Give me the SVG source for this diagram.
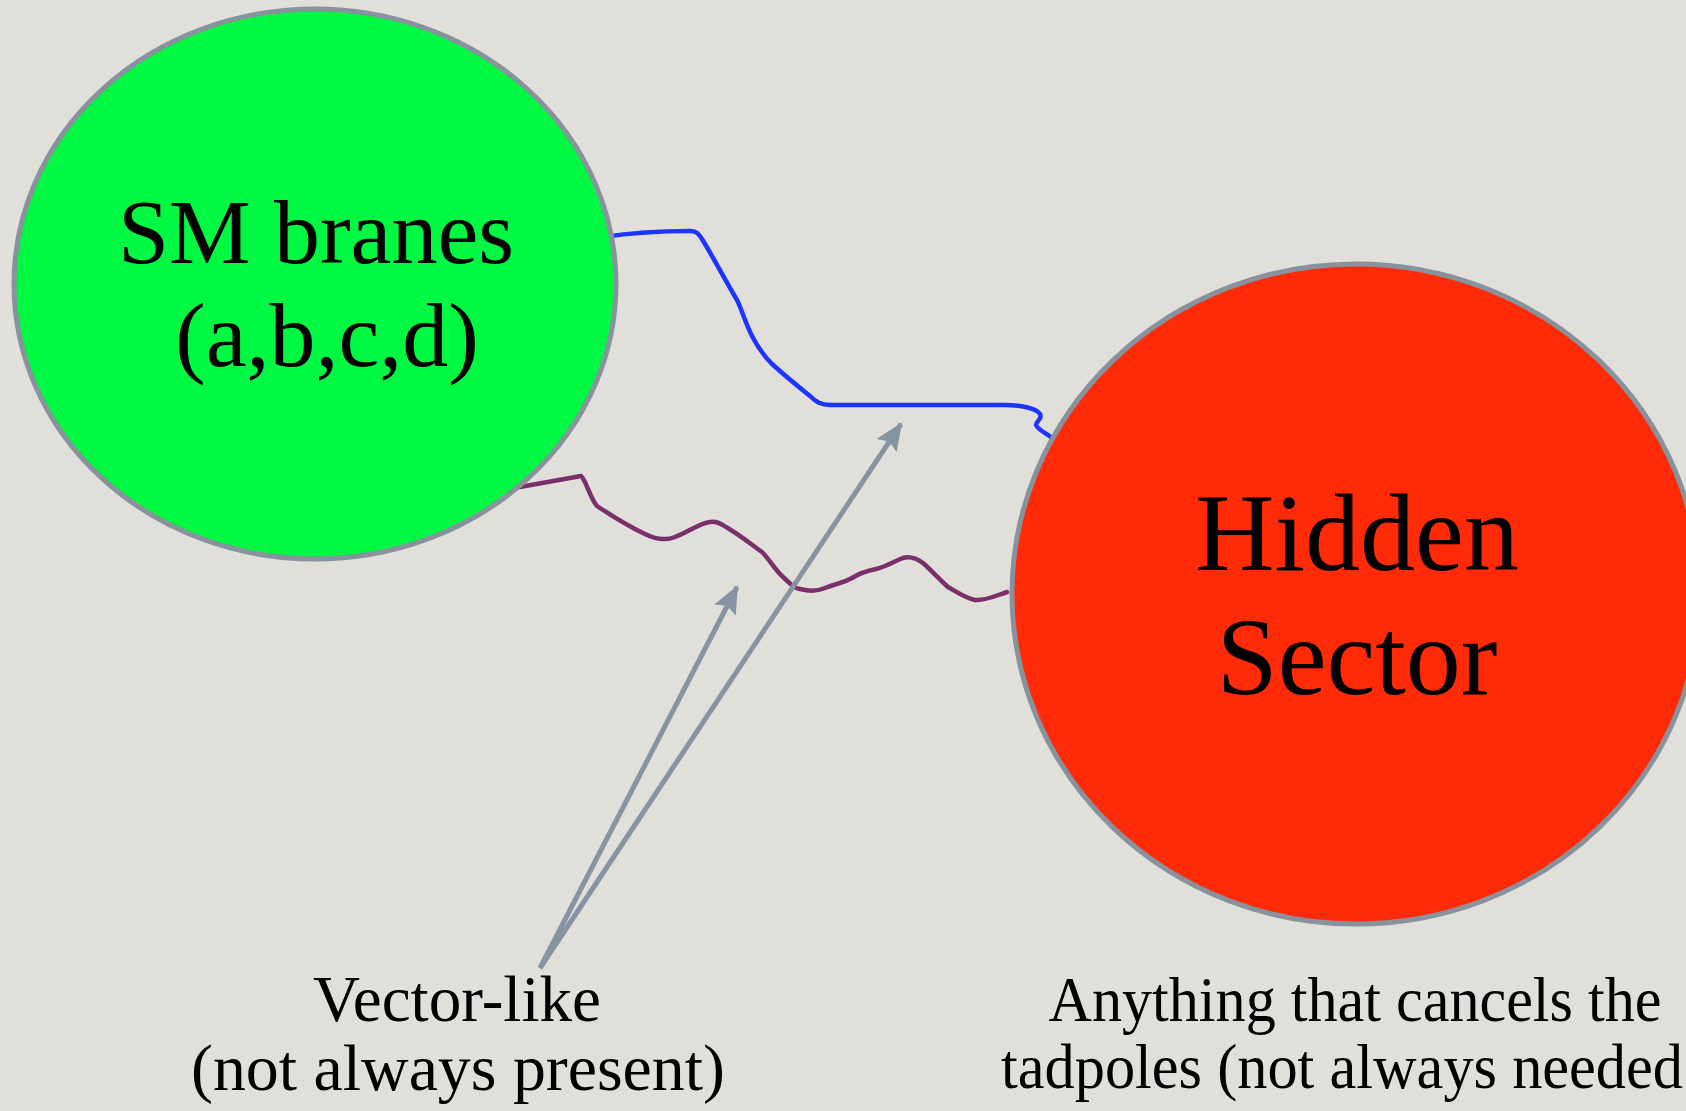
<svg xmlns="http://www.w3.org/2000/svg" width="1686" height="1111" viewBox="0 0 1686 1111">
  <style>
    .node { stroke: #88929d; stroke-width: 5; }
    .label { font-family: "Liberation Serif", "DejaVu Serif", serif; fill: #000; text-anchor: middle; }
    .wire { fill: none; stroke-width: 4.5; stroke-linecap: round; stroke-linejoin: round; }
    .arrow { fill: none; stroke: #8693a0; stroke-width: 5; marker-end: url(#ah); }
  </style>
  <defs>
    <marker id="ah" markerUnits="userSpaceOnUse" markerWidth="30" markerHeight="30" viewBox="0 0 30 30" refX="26" refY="15" orient="auto">
      <path d="M0,3 L28,15 L0,27 L5,15 Z" fill="#8693a0"/>
    </marker>
  </defs>
  <rect x="0" y="0" width="1686" height="1111" fill="#e1dfda"/>

  <g id="connectors">
    <path class="wire" stroke="#7a2e6c" d="M520,487 L581,476 C586,480 590,498 597,506 C612,516 630,527 645,534 C655,539 665,541 675,537 C690,531 700,523 710,522 C716,521 720,523 726,527 C740,535 752,545 762,552 C770,560 775,570 783,577 C790,583 793,588 800,589 C808,591 815,592 825,588 C835,584 843,583 852,578 C860,573 866,571 876,569 C885,567 893,562 903,558 C910,556 916,558 923,563 C932,571 940,580 948,587 C957,592 965,598 975,600 C985,601 995,596 1007,592"/>
    <path class="wire" stroke="#1d33ff" d="M603,237 C630,233 660,231 690,231 C696,231 698,233 702,239 C712,255 725,280 737,300 C742,310 745,322 752,336 C758,348 764,356 772,364 C782,373 795,384 810,396 C816,402 821,405 830,405 L1005,405 C1020,405 1036,408 1040,414 C1043,419 1036,421 1036,425 C1038,430 1046,433 1052,438"/>
    <path class="arrow" d="M540,968 L737,587"/>
    <path class="arrow" d="M540,968 L901,424"/>
  </g>

  <g id="sm-branes">
    <ellipse class="node" cx="315" cy="284" rx="301" ry="275" fill="#00f843"/>
    <text class="label" x="316" y="263" font-size="92">SM branes</text>
    <text class="label" x="327" y="366" font-size="92">(a,b,c,d)</text>
  </g>

  <g id="hidden-sector">
    <ellipse class="node" cx="1356" cy="594" rx="344" ry="330" fill="#ff2a08"/>
    <text class="label" x="1357" y="570" font-size="110">Hidden</text>
    <text class="label" x="1357" y="694" font-size="110">Sector</text>
  </g>

  <g id="vector-like-label">
    <text class="label" x="457" y="1021" font-size="65" textLength="288" lengthAdjust="spacingAndGlyphs">Vector-like</text>
    <text class="label" x="458" y="1090" font-size="65" textLength="534" lengthAdjust="spacingAndGlyphs">(not always present)</text>
  </g>

  <g id="tadpole-label">
    <text class="label" x="1355" y="1021" font-size="63" textLength="613" lengthAdjust="spacingAndGlyphs">Anything that cancels the</text>
    <text class="label" x="1001" y="1088" font-size="63" style="text-anchor:start" textLength="682" lengthAdjust="spacingAndGlyphs">tadpoles (not always needed</text>
  </g>
</svg>
